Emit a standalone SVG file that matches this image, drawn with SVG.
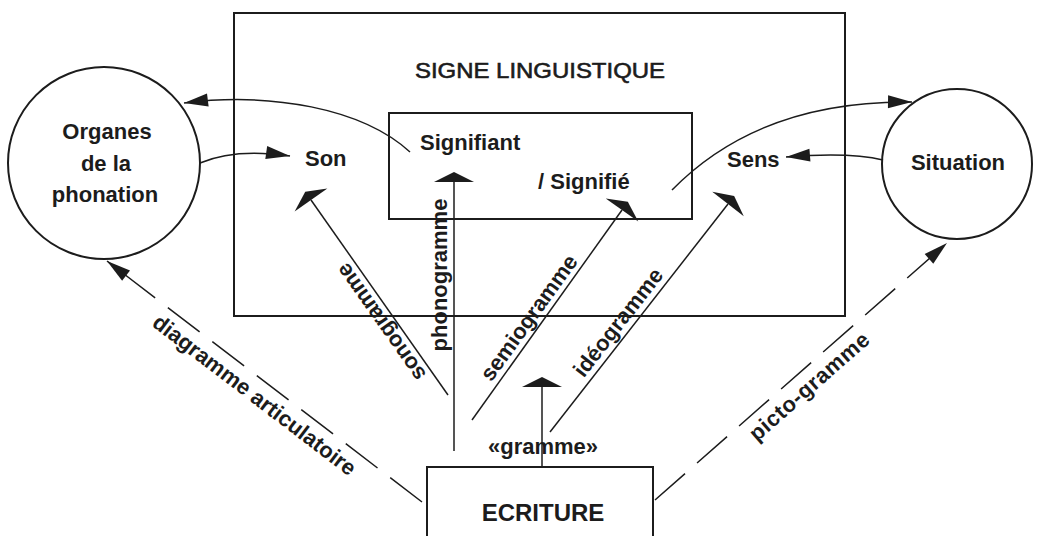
<svg xmlns="http://www.w3.org/2000/svg" width="1039" height="536" viewBox="0 0 1039 536">
<style>
 .lbl{font-family:"Liberation Sans",Arial,sans-serif;font-size:22px;font-weight:bold;fill:#1c1c1c}
 .title{font-family:"Liberation Sans",Arial,sans-serif;font-size:22px;fill:#1c1c1c;stroke:#1c1c1c;stroke-width:0.6px}
 .box{fill:none;stroke:#1c1c1c;stroke-width:2}
 .ln{fill:none;stroke:#1c1c1c;stroke-width:1.5}
 .dash{stroke-dasharray:40 16}
 .mk{fill:#1c1c1c;stroke:none}
</style>
<defs>
 <marker id="arrow" viewBox="-25 -8 27 16" refX="0" refY="0" markerWidth="27" markerHeight="16" markerUnits="userSpaceOnUse" orient="auto">
  <path class="mk" d="M0,0 L-24,-6.5 L-24,6.5 Z"/>
 </marker>
 <marker id="roof" viewBox="-1 -21 13 42" refX="0" refY="0" markerWidth="13" markerHeight="42" markerUnits="userSpaceOnUse" orient="auto">
  <path class="mk" d="M0,-20 L10,0 L0,20 Z"/>
 </marker>
</defs>
<rect width="1039" height="536" fill="#ffffff"/>

<g id="node-signe">
 <rect class="box" x="234" y="13" width="611" height="303"/>
 <text class="title" x="540" y="78" text-anchor="middle" textLength="250" lengthAdjust="spacingAndGlyphs">SIGNE LINGUISTIQUE</text>
</g>

<g id="node-signifiant">
 <rect class="box" x="389" y="113" width="303" height="106"/>
 <text class="lbl" x="420" y="150">Signifiant</text>
 <text class="lbl" x="538" y="189">/ Signifié</text>
</g>

<g id="node-organes">
 <circle class="box" cx="104" cy="163" r="96"/>
 <text class="lbl" x="107" y="139" text-anchor="middle">Organes</text>
 <text class="lbl" x="106" y="171" text-anchor="middle">de la</text>
 <text class="lbl" x="105" y="202" text-anchor="middle">phonation</text>
</g>

<g id="node-son">
 <text class="lbl" x="305" y="166">Son</text>
</g>

<g id="node-sens">
 <text class="lbl" x="727" y="167">Sens</text>
</g>

<g id="node-situation">
 <circle class="box" cx="957" cy="164" r="75"/>
 <text class="lbl" x="958" y="170" text-anchor="middle">Situation</text>
</g>

<g id="node-ecriture">
 <rect class="box" x="427" y="467" width="226" height="100"/>
 <text class="lbl" x="543" y="521" text-anchor="middle" style="font-size:24px">ECRITURE</text>
</g>

<g id="connectors">
 <path class="ln" d="M410,152 C362,108 270,92 184,103" marker-end="url(#arrow)"/>
 <path class="ln" d="M200,163 Q235,148 290,156" marker-end="url(#arrow)"/>
 <path class="ln" d="M672,190 Q760,100 912,102" marker-end="url(#arrow)"/>
 <path class="ln" d="M883,160 Q850,152 786,157" marker-end="url(#arrow)"/>

 <path class="ln" d="M448,395 L311,200" marker-end="url(#roof)"/>
 <path class="ln" d="M454,451 L454,182" marker-end="url(#roof)"/>
 <path class="ln" d="M472,420 L622,210" marker-end="url(#roof)"/>
 <path class="ln" d="M550,432 L728,204" marker-end="url(#roof)"/>
 <path class="ln" d="M542,467 L542,387" marker-end="url(#roof)"/>

 <path class="ln dash" d="M422,502 L107,261" marker-end="url(#arrow)"/>
 <path class="ln dash" d="M655,500 L947,243" marker-end="url(#arrow)"/>

 <text class="lbl" transform="translate(387,318) rotate(-125.2)" text-anchor="middle">sonogramme</text>
 <text class="lbl" transform="translate(447,275) rotate(-90)" text-anchor="middle">phonogramme</text>
 <text class="lbl" transform="translate(535,322) rotate(-54.2)" text-anchor="middle">semiogramme</text>
 <text class="lbl" transform="translate(624,327) rotate(-52)" text-anchor="middle">idéogramme</text>
 <text class="lbl" transform="translate(250,401) rotate(37.4)" text-anchor="middle">diagramme articulatoire</text>
 <text class="lbl" transform="translate(814,392) rotate(-41.3)" text-anchor="middle" textLength="152">picto-gramme</text>
 <text class="lbl" x="543" y="454" text-anchor="middle">«gramme»</text>
</g>
</svg>
